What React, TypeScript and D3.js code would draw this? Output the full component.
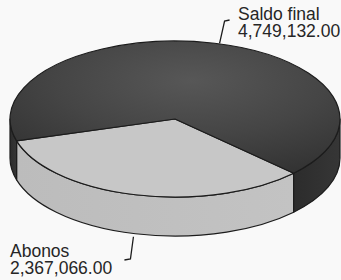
import React from "react";
import * as d3 from "d3";

const categories = ["Abonos", "Saldo final"];
const values = [2367066.0, 4749132.0];
const valueLabels = ["2,367,066.00", "4,749,132.00"];

const W = 341;
const H = 280;
const cx = 175;
const cy = 119;
const rx = 165;
const ry = 78;
const depth = 39;

const topFill = ["#c7c7c7", "url(#darkTop)"];
const wallFill = ["url(#lightWall)", "url(#darkWall)"];

function pt(t: number, dy = 0): [number, number] {
  return [cx + rx * Math.cos(t), cy + ry * Math.sin(t) + dy];
}

function topPath(t0: number, t1: number) {
  const p = d3.path();
  p.moveTo(cx, cy);
  const a = pt(t0);
  const b = pt(t1);
  p.lineTo(a[0], a[1]);
  const large = t1 - t0 > Math.PI ? 1 : 0;
  return p.toString() + `A${rx},${ry} 0 ${large} 1 ${b[0]},${b[1]}Z`;
}

function wallPaths(t0: number, t1: number): string[] {
  const out: string[] = [];
  for (const base of [0, 2 * Math.PI]) {
    const s = Math.max(t0, base);
    const e = Math.min(t1, base + Math.PI);
    if (e > s) {
      const a = pt(s);
      const b = pt(e);
      const bd = pt(e, depth);
      const ad = pt(s, depth);
      out.push(
        `M${a[0]},${a[1]}A${rx},${ry} 0 0 1 ${b[0]},${b[1]}L${bd[0]},${bd[1]}A${rx},${ry} 0 0 0 ${ad[0]},${ad[1]}Z`
      );
    }
  }
  return out;
}

export default function App() {
  const startDeg = 134;
  const pie = d3
    .pie<number>()
    .sort(null)
    .startAngle((startDeg * Math.PI) / 180)
    .endAngle((startDeg * Math.PI) / 180 + 2 * Math.PI);
  const arcs = pie(values);
  const slices = arcs.map((a) => ({
    t0: a.startAngle - Math.PI / 2,
    t1: a.endAngle - Math.PI / 2,
    mid: (a.startAngle + a.endAngle) / 2 - Math.PI / 2,
  }));

  const abMid = pt(slices[0].mid, depth);
  const sfMid = pt(slices[1].mid);

  const font = "'Liberation Sans', Arial, Helvetica, sans-serif";

  return (
    <svg
      width={W}
      height={H}
      style={{ position: "fixed", left: 0, top: 0, background: "#f9f9f9" }}
    >
      <defs>
        <radialGradient id="darkTop" cx="0.55" cy="0.3" r="0.75">
          <stop offset="0" stopColor="#575757" />
          <stop offset="0.55" stopColor="#454545" />
          <stop offset="1" stopColor="#333333" />
        </radialGradient>
        <linearGradient id="darkWall" x1="0" x2="1" y1="0" y2="0">
          <stop offset="0" stopColor="#2c2c2c" />
          <stop offset="1" stopColor="#363636" />
        </linearGradient>
        <linearGradient id="lightWall" x1="0" x2="1" y1="0" y2="0">
          <stop offset="0" stopColor="#bcbcbc" />
          <stop offset="1" stopColor="#c3c3c3" />
        </linearGradient>
      </defs>
      <g stroke="#1c1c1c" strokeWidth={1.2} strokeLinejoin="round">
        {slices.map((s, i) =>
          wallPaths(s.t0, s.t1).map((d, j) => (
            <path key={`w${i}-${j}`} d={d} fill={wallFill[i]} />
          ))
        )}
        {slices.map((s, i) => (
          <path key={`t${i}`} d={topPath(s.t0, s.t1)} fill={topFill[i]} />
        ))}
      </g>
      <path
        d={`M${sfMid[0] + 5},${sfMid[1]}L${sfMid[0] + 10},${21}L${sfMid[0] + 15},${20}`}
        fill="none"
        stroke="#1c1c1c"
        strokeWidth={1.3}
      />
      <path
        d={`M${abMid[0] - 2},${abMid[1] + 3}L${abMid[0] - 5},${259}L${abMid[0] - 11},${260}`}
        fill="none"
        stroke="#1c1c1c"
        strokeWidth={1.3}
      />
      <g fontFamily={font} fontSize={17.5} fill="#262626">
        <text x={238} y={20}>
          <tspan x={238}>{categories[1]}</tspan>
          <tspan x={238} dy={17}>{valueLabels[1]}</tspan>
        </text>
        <text x={10} y={257}>
          <tspan x={10}>{categories[0]}</tspan>
          <tspan x={10} dy={17}>{valueLabels[0]}</tspan>
        </text>
      </g>
    </svg>
  );
}
